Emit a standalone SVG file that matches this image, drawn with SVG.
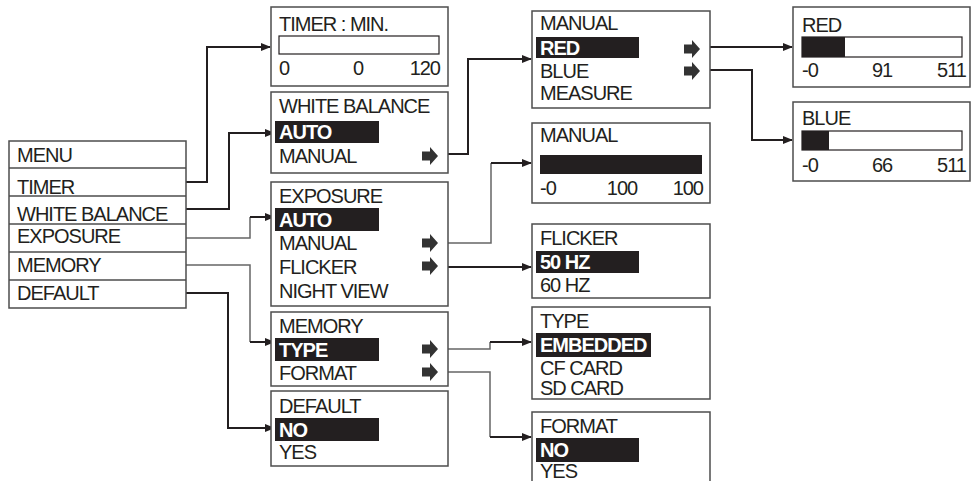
<svg xmlns="http://www.w3.org/2000/svg" xmlns:xlink="http://www.w3.org/1999/xlink" width="971" height="481" viewBox="0 0 971 481">
<style>
text{font-family:"Liberation Sans",Arial,sans-serif;font-size:20px;letter-spacing:-1px;fill:#231f20}
.b{font-weight:bold;fill:#fff}
.box{fill:#fff;stroke:#4d4d4d;stroke-width:1.5}
.hl{fill:#231f20}
.bar{fill:#fff;stroke:#231f20;stroke-width:1.2}
.sep{stroke:#4d4d4d;stroke-width:1.5}
.c{fill:none;stroke:#231f20;stroke-width:2}
.g{fill:none;stroke:#666;stroke-width:1.5}
.m{text-anchor:middle}
.e{text-anchor:end}
</style>
<defs>
<marker id="ah" markerWidth="10" markerHeight="10" refX="9" refY="5" orient="auto" markerUnits="userSpaceOnUse"><path d="M0,1 L10,5 L0,9 Z" fill="#231f20"/></marker>
<path id="ic" d="M0,-4.5 H8 V-9 L16,0 L8,9 V4.5 H0 Z" fill="#333"/>
</defs>
<rect width="971" height="481" fill="#fff"/>

<g id="connectors">
<path class="c" d="M186,182 H207 V47 H270" marker-end="url(#ah)"/>
<path class="c" d="M186,209 H229 V133 H274" marker-end="url(#ah)"/>
<path class="g" d="M186,238 H250 V217"/>
<path class="c" d="M250,217 H274" marker-end="url(#ah)"/>
<path class="g" d="M186,265 H250 V342"/>
<path class="c" d="M250,342 H274" marker-end="url(#ah)"/>
<path class="c" d="M186,293 H228 V428 H274" marker-end="url(#ah)"/>
<path class="c" d="M448,154 H468 V59 H531" marker-end="url(#ah)"/>
<path class="g" d="M448,243 H491 V163"/>
<path class="c" d="M491,163 H531" marker-end="url(#ah)"/>
<path class="c" d="M448,267 H531" marker-end="url(#ah)"/>
<path class="g" d="M448,349 H490 V342"/>
<path class="c" d="M490,342 H531" marker-end="url(#ah)"/>
<path class="g" d="M448,372 H490 V437"/>
<path class="c" d="M490,437 H531" marker-end="url(#ah)"/>
<path class="c" d="M710,47 H792" marker-end="url(#ah)"/>
<path class="c" d="M710,70 H752 V140 H792" marker-end="url(#ah)"/>
</g>

<g id="menu">
<rect class="box" x="9" y="141" width="177" height="167"/>
<line class="sep" x1="9" y1="168" x2="186" y2="168"/>
<line class="sep" x1="9" y1="196" x2="186" y2="196"/>
<line class="sep" x1="9" y1="224" x2="186" y2="224"/>
<line class="sep" x1="9" y1="252" x2="186" y2="252"/>
<line class="sep" x1="9" y1="280" x2="186" y2="280"/>
<text x="17" y="162">MENU</text>
<text x="17" y="194">TIMER</text>
<text x="17" y="221">WHITE BALANCE</text>
<text x="17" y="243">EXPOSURE</text>
<text x="17" y="272">MEMORY</text>
<text x="17" y="300">DEFAULT</text>
</g>

<g id="timer">
<rect class="box" x="271" y="7" width="177" height="79"/>
<text x="279" y="31">TIMER : MIN.</text>
<rect class="bar" x="279" y="36" width="160" height="18"/>
<text x="279" y="75">0</text>
<text class="m" x="358" y="75">0</text>
<text class="e" x="440" y="75">120</text>
</g>

<g id="white-balance">
<rect class="box" x="271" y="92" width="177" height="81"/>
<text x="279" y="113">WHITE BALANCE</text>
<rect class="hl" x="275" y="121" width="104" height="22"/>
<text class="b" x="279" y="139">AUTO</text>
<text x="279" y="163">MANUAL</text>
<use xlink:href="#ic" x="422" y="156"/>
</g>

<g id="exposure">
<rect class="box" x="271" y="182" width="177" height="124"/>
<text x="279" y="203">EXPOSURE</text>
<rect class="hl" x="275" y="208" width="104" height="23"/>
<text class="b" x="279" y="227">AUTO</text>
<text x="279" y="250">MANUAL</text>
<text x="279" y="274">FLICKER</text>
<text x="279" y="298">NIGHT VIEW</text>
<use xlink:href="#ic" x="422" y="243"/>
<use xlink:href="#ic" x="422" y="266"/>
</g>

<g id="memory">
<rect class="box" x="271" y="312" width="177" height="74"/>
<text x="279" y="333">MEMORY</text>
<rect class="hl" x="275" y="338" width="104" height="23"/>
<text class="b" x="279" y="357">TYPE</text>
<text x="279" y="380">FORMAT</text>
<use xlink:href="#ic" x="422" y="349"/>
<use xlink:href="#ic" x="422" y="372"/>
</g>

<g id="default">
<rect class="box" x="271" y="391" width="177" height="75"/>
<text x="279" y="413">DEFAULT</text>
<rect class="hl" x="275" y="418" width="104" height="23"/>
<text class="b" x="279" y="437">NO</text>
<text x="279" y="459">YES</text>
</g>

<g id="wb-manual">
<rect class="box" x="532" y="11" width="178" height="97"/>
<text x="540" y="30">MANUAL</text>
<rect class="hl" x="536" y="37" width="103" height="21"/>
<text class="b" x="540" y="55">RED</text>
<text x="540" y="78">BLUE</text>
<text x="540" y="100">MEASURE</text>
<use xlink:href="#ic" x="684" y="49"/>
<use xlink:href="#ic" x="684" y="71"/>
</g>

<g id="exp-manual">
<rect class="box" x="532" y="123" width="178" height="80"/>
<text x="540" y="142">MANUAL</text>
<rect class="hl" x="540" y="155" width="162" height="19"/>
<text x="540" y="195">-0</text>
<text class="m" x="622" y="195">100</text>
<text class="e" x="703" y="195">100</text>
</g>

<g id="flicker">
<rect class="box" x="532" y="224" width="178" height="74"/>
<text x="540" y="245">FLICKER</text>
<rect class="hl" x="536" y="251" width="103" height="22"/>
<text class="b" x="540" y="269">50 HZ</text>
<text x="540" y="292">60 HZ</text>
</g>

<g id="type">
<rect class="box" x="532" y="307" width="178" height="92"/>
<text x="540" y="328">TYPE</text>
<rect class="hl" x="536" y="333" width="115" height="24"/>
<text class="b" x="540" y="352">EMBEDDED</text>
<text x="540" y="375">CF CARD</text>
<text x="540" y="395">SD CARD</text>
</g>

<g id="format">
<rect class="box" x="532" y="412" width="178" height="80"/>
<text x="540" y="433">FORMAT</text>
<rect class="hl" x="536" y="438" width="103" height="24"/>
<text class="b" x="540" y="457">NO</text>
<text x="540" y="478">YES</text>
</g>

<g id="red">
<rect class="box" x="793" y="7" width="177" height="80"/>
<text x="802" y="32">RED</text>
<rect class="bar" x="802" y="37" width="160" height="20"/>
<rect class="hl" x="802" y="37" width="43" height="20"/>
<text x="802" y="77">-0</text>
<text class="m" x="882" y="77">91</text>
<text class="e" x="966" y="77">511</text>
</g>

<g id="blue">
<rect class="box" x="793" y="102" width="177" height="79"/>
<text x="802" y="125">BLUE</text>
<rect class="bar" x="802" y="131" width="160" height="19"/>
<rect class="hl" x="802" y="131" width="27" height="19"/>
<text x="802" y="172">-0</text>
<text class="m" x="882" y="172">66</text>
<text class="e" x="966" y="172">511</text>
</g>
</svg>
